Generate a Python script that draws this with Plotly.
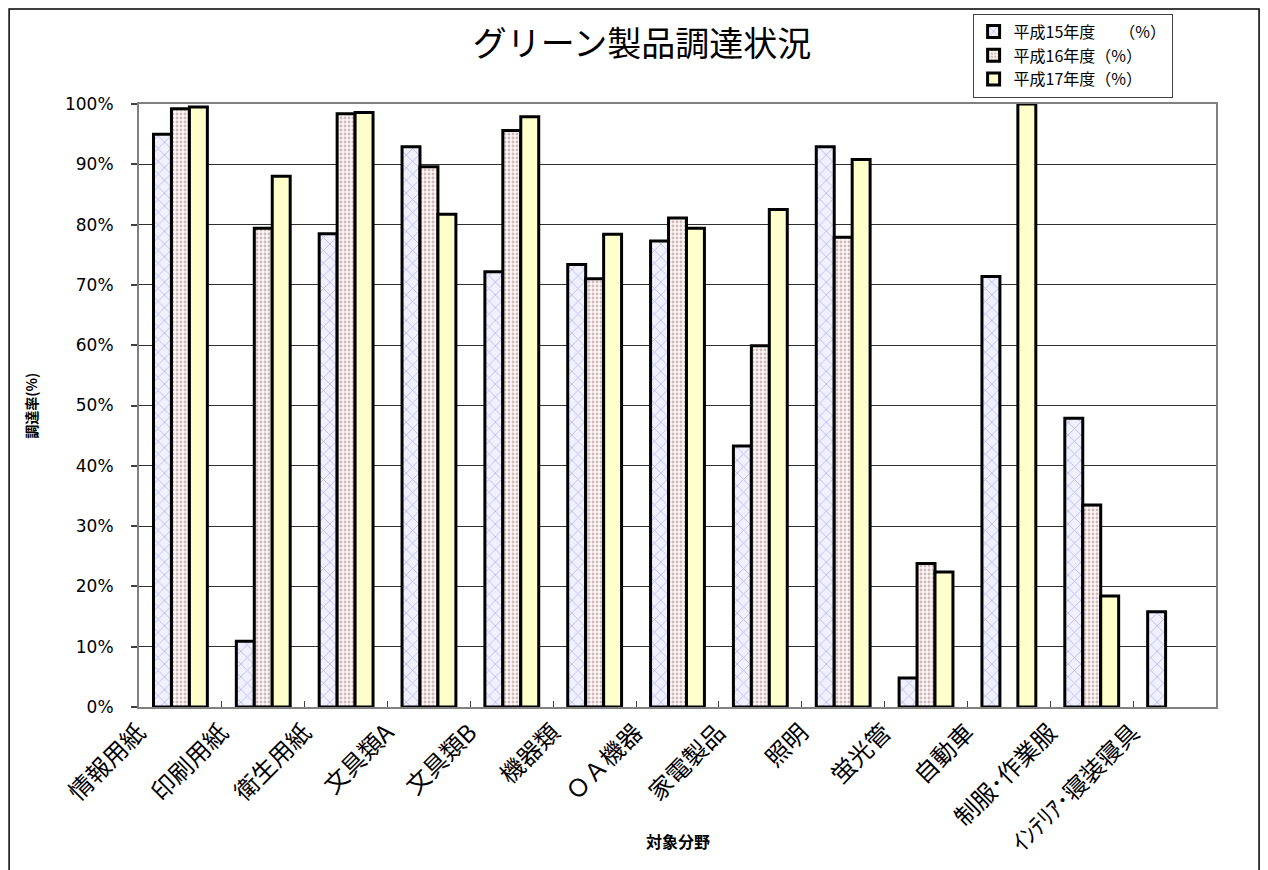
import plotly.graph_objects as go

categories = ["情報用紙", "印刷用紙", "衛生用紙", "文具類A", "文具類B", "機器類", "ＯＡ機器",
              "家電製品", "照明", "蛍光管", "自動車", "制服･作業服", "ｲﾝﾃﾘｱ･寝装寝具"]
series_names = ["平成15年度　　（%）", "平成16年度（%）", "平成17年度（%）"]
h15 = [95.0, 10.9, 78.5, 92.9, 72.2, 73.4, 77.3, 43.3, 92.9, 4.8, 71.4, 47.9, 15.8]
h16 = [99.2, 79.4, 98.4, 89.6, 95.6, 71.0, 81.1, 59.9, 77.9, 23.8, None, 33.5, None]
h17 = [99.5, 88.0, 98.6, 81.7, 97.9, 78.4, 79.4, 82.5, 90.8, 22.4, 100.0, 18.4, None]
y_ticks = [0, 10, 20, 30, 40, 50, 60, 70, 80, 90, 100]
y_tick_labels = ["0%", "10%", "20%", "30%", "40%", "50%", "60%", "70%", "80%", "90%", "100%"]

CJK = "Noto Sans CJK JP"

fig = go.Figure()
fig.add_trace(go.Bar(
    name=series_names[0], x=categories, y=h15,
    marker=dict(color="#F0F0FF", line=dict(color="black", width=3),
                pattern=dict(shape="x", fgcolor="#8C8CDC", bgcolor="#F0F0FF", size=9, solidity=0.2)),
))
fig.add_trace(go.Bar(
    name=series_names[1], x=categories, y=h16,
    marker=dict(color="#FFF6F6", line=dict(color="black", width=3),
                pattern=dict(shape=".", fgcolor="#A07878", bgcolor="#FFF8F8", size=4, solidity=0.4)),
))
fig.add_trace(go.Bar(
    name=series_names[2], x=categories, y=h17,
    marker=dict(color="#FFFFCC", line=dict(color="black", width=3)),
))

fig.update_layout(
    width=1268, height=870,
    margin=dict(l=131, r=60, t=96, b=171, autoexpand=False),
    paper_bgcolor="white", plot_bgcolor="white",
    barmode="group", bargap=0.35, bargroupgap=0,
    font=dict(family=CJK, color="black"),
    title=dict(text="グリーン製品調達状況", x=0.5, xanchor="center", y=0.958, yanchor="middle",
               font=dict(size=34, family=CJK, color="black")),
    legend=dict(x=0.774, y=1.150, xanchor="left", yanchor="top",
                bgcolor="white", bordercolor="#404040", borderwidth=1,
                font=dict(size=16, family=CJK), tracegroupgap=0, itemwidth=30),
    showlegend=True,
)

fig.update_yaxes(
    range=[0, 100], tickvals=y_ticks, ticktext=y_tick_labels,
    showgrid=True, gridcolor="#303030", gridwidth=1,
    showline=True, linecolor="#808080", linewidth=2, mirror=True,
    ticks="outside", ticklen=6, tickcolor="#404040", tickwidth=1.5,
    tickfont=dict(size=17, family="DejaVu Sans", color="black"),
    zeroline=False, ticklabelstandoff=14,
)
fig.update_xaxes(
    showline=True, linecolor="#808080", linewidth=2, mirror=True,
    ticks="inside", ticklen=6, tickson="boundaries", tickcolor="#404040",
    tickangle=-45, tickfont=dict(size=24, family=CJK, color="black"),
    ticklabelshift=-42, ticklabelstandoff=0,
)

fig.add_annotation(text="<b>調達率(%)</b>", textangle=-90, xref="paper", yref="paper",
                   x=-0.101, xanchor="center", y=0.5, showarrow=False,
                   font=dict(size=14, family=CJK))
fig.add_annotation(text="<b>対象分野</b>", xref="paper", yref="paper",
                   x=0.5, y=-0.245, showarrow=False, font=dict(size=16, family=CJK))

fig.add_shape(type="rect", xref="paper", yref="paper",
              x0=-0.1206, x1=1.04, y0=-0.3, y1=1.1575,
              line=dict(color="black", width=1.5), layer="below")

fig.write_html("out.html")
